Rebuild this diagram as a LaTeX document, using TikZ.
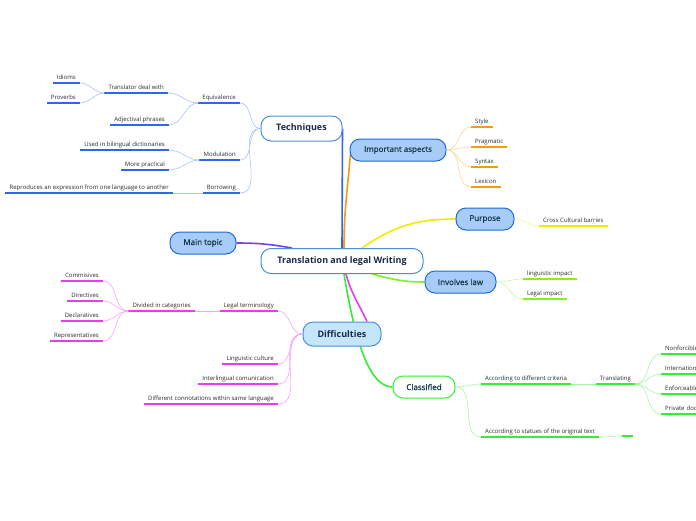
\documentclass[tikz,border=0pt]{standalone}
\usepackage{fontspec}
\setmainfont{Open Sans}
\newfontfamily\mediumfont{Open Sans}[FakeBold=0.7]
\usetikzlibrary{calc}
\pgfdeclarelayer{paper}
\pgfdeclarelayer{background}
\pgfsetlayers{paper,background,main}
\definecolor{ink}{HTML}{1B2A4A}
\definecolor{subink}{HTML}{123A48}
\definecolor{leafink}{HTML}{2B2B2B}
\definecolor{frame}{HTML}{4A8FD4}
\definecolor{subfill}{HTML}{A8CCF8}
\definecolor{subframe}{HTML}{1F6AD6}
\definecolor{difffill}{HTML}{C4E6FA}
\definecolor{blueline}{HTML}{2F66EE}
\definecolor{bluelink}{HTML}{A9C3F8}
\definecolor{orangeline}{HTML}{F59A12}
\definecolor{orangelink}{HTML}{FFD49A}
\definecolor{yellowline}{HTML}{EEEE00}
\definecolor{yellowlink}{HTML}{F8F890}
\definecolor{limeline}{HTML}{88EE22}
\definecolor{limelink}{HTML}{CCF7A4}
\definecolor{pinkline}{HTML}{E83CF0}
\definecolor{pinklink}{HTML}{F4A6F6}
\definecolor{greenline}{HTML}{33EE33}
\definecolor{greenlink}{HTML}{A6F6A6}
\definecolor{purpleline}{HTML}{7B3FF0}

\begin{document}
\begin{tikzpicture}[x=1pt,y=-1pt,
  every node/.style={text=ink},
  box/.style={rounded corners=10pt,line width=1pt,inner sep=2pt,
    minimum height=22pt,font=\fontsize{8}{9}\mediumfont},
  topic/.style={box,fill=white,draw=frame,minimum height=25pt,
    font=\fontsize{9}{10}\selectfont\bfseries},
  sub/.style={box,fill=subfill,draw=subframe,text=subink},
  leaf/.style={font=\fontsize{6}{7}\selectfont,text=leafink,inner xsep=4pt,
    inner ysep=2.5pt,text height=4.5pt,text depth=1.3pt},
  leafL/.style={leaf,anchor=south east},
  leafR/.style={leaf,anchor=south west},
  under/.style={line width=1.5pt,draw=#1},
  link/.style={line width=.6pt,draw=#1},
  trunk/.style={line width=1.6pt,draw=#1}]

\useasboundingbox (0,0) rectangle (696,520);
\begin{pgfonlayer}{paper}
  \fill[white] (0,0) rectangle (696,520);
\end{pgfonlayer}

% -------------------------------------------------------------------------
% Central topic and main topics.
% -------------------------------------------------------------------------
\node[topic,minimum width=162pt] (center) at (342,261) {Translation and legal Writing};
\node[topic,minimum width=81pt]  (tech) at (301.5,128.5) {Techniques};
\node[sub,minimum width=96pt]    (imp) at (398,150) {Important aspects};
\node[sub,minimum width=58pt]    (purp) at (485,219) {Purpose};
\node[sub,minimum width=66pt]    (mainT) at (203,243) {Main topic};
\node[sub,minimum width=71pt]    (law) at (460.5,282) {Involves law};
\node[topic,fill=difffill,minimum width=78pt,minimum height=24pt] (diff) at (342,334) {Difficulties};
\node[box,fill=white,draw=greenline,text=subink,minimum width=62pt] (cls) at (424,387) {Classified};

% trunks run behind the topic boxes
\begin{pgfonlayer}{background}
  \draw[trunk=blueline] (center.north) -- (tech.east);
  \draw[trunk=orangeline] ($(center.north)+(2,0)$) to[out=90,in=-95] ($(imp.west)+(1,4)$);
  \draw[trunk=yellowline] ($(center.north)+(20,0)$) to[out=35,in=180] (purp.west);
  \draw[trunk=purpleline] (mainT.east) to[out=0,in=170] ($(center.north)+(-50,0)$);
  \draw[trunk=limeline] ($(center.south)+(30,0)$) to[out=-15,in=180] (law.west);
  \draw[trunk=pinkline] ($(center.south)+(4,0)$) to[out=-75,in=115] ($(diff.north)+(25,0)$);
  \draw[trunk=greenline] ($(center.south)+(2,0)$) .. controls +(10,60) and +(-25,0) .. (cls.west);
\end{pgfonlayer}

% -------------------------------------------------------------------------
% Techniques.
% -------------------------------------------------------------------------
\node[leafL] (idioms) at (80,83)  {Idioms};
\node[leafL] (prov)   at (80,103) {Proverbs};
\node[leafL] (trans)  at (168,93) {Translator deal with};
\node[leafL] (adj)    at (169,125) {Adjectival phrases};
\node[leafL] (eqv)    at (240,103) {Equivalence};
\node[leafL] (dict)   at (169,150) {Used in bilingual dictionaries};
\node[leafL] (pract)  at (169,170) {More practical};
\node[leafL] (modu)   at (240,160) {Modulation};
\node[leafL] (repr)   at (173,193) {Reproduces an expression from one language to another};
\node[leafL] (borr)   at (240,193) {Borrowing};
\foreach \n in {idioms,prov,trans,adj,eqv,dict,pract,modu,repr,borr}
  \draw[under=blueline] (\n.south west) -- (\n.south east);
\draw[link=bluelink] (idioms.south east) to[out=0,in=180] (trans.south west);
\draw[link=bluelink] (prov.south east) to[out=0,in=180] (trans.south west);
\draw[link=bluelink] (trans.south east) to[out=0,in=180] (eqv.south west);
\draw[link=bluelink] (adj.south east) to[out=0,in=180] (eqv.south west);
\draw[link=bluelink] (dict.south east) to[out=0,in=180] (modu.south west);
\draw[link=bluelink] (pract.south east) to[out=0,in=180] (modu.south west);
\draw[link=bluelink] (repr.south east) -- (borr.south west);
\foreach \n in {eqv,modu,borr}
  \draw[link=bluelink] (\n.south east) to[out=0,in=180] (tech.west);

% -------------------------------------------------------------------------
% Important aspects, Purpose, Involves law.
% -------------------------------------------------------------------------
\node[leafR] (style) at (471,127) {Style};
\node[leafR] (prag)  at (471,147) {Pragmatic};
\node[leafR] (syn)   at (471,167) {Syntax};
\node[leafR] (lex)   at (471,187) {Lexicon};
\foreach \n in {style,prag,syn,lex} {
  \draw[under=orangeline] (\n.south west) -- (\n.south east);
  \draw[link=orangelink] (imp.east) to[out=0,in=180] (\n.south west);
}

\node[leafR] (cross) at (539,226) {Cross Cultural barries};
\draw[under=yellowline] (cross.south west) -- (cross.south east);
\draw[link=yellowlink] (purp.east) to[out=0,in=180] (cross.south west);

\node[leafR] (ling)  at (523,279) {linguistic impact};
\node[leafR] (legal) at (523,299) {Legal impact};
\foreach \n in {ling,legal} {
  \draw[under=limeline] (\n.south west) -- (\n.south east);
  \draw[link=limelink] (law.east) to[out=0,in=180] (\n.south west);
}

% -------------------------------------------------------------------------
% Difficulties.
% -------------------------------------------------------------------------
\node[leafL] (comm)  at (103,281) {Commisives};
\node[leafL] (dirs)  at (103,301) {Directives};
\node[leafL] (decl)  at (103,321) {Declaratives};
\node[leafL] (repre) at (103,341) {Representatives};
\node[leafL] (divc)  at (195,311) {Divided in categories};
\node[leafL] (legt)  at (278,311) {Legal terminology};
\node[leafL] (lcult) at (278,364) {Linguistic culture};
\node[leafL] (inter) at (278,384) {Interlingual comunication};
\node[leafL] (conn)  at (278,404) {Different connotations within same language};
\foreach \n in {comm,dirs,decl,repre,divc,legt,lcult,inter,conn}
  \draw[under=pinkline] (\n.south west) -- (\n.south east);
\foreach \n in {comm,dirs,decl,repre}
  \draw[link=pinklink] (\n.south east) to[out=0,in=180] (divc.south west);
\draw[link=pinklink] (divc.south east) -- (legt.south west);
\foreach \n in {legt,lcult,inter,conn}
  \draw[link=pinklink] (\n.south east) to[out=0,in=180] (diff.west);

% -------------------------------------------------------------------------
% Classified.
% -------------------------------------------------------------------------
\node[leafR] (crit)  at (481,384) {According to different criteria};
\node[leafR] (trsl)  at (596,384) {Translating};
\node[leafR] (stat)  at (481,437) {According to statues of the original text};
\node[leafR,minimum width=11pt] (blank) at (622,436) {};
\node[leafR,text width=45pt] (nonf) at (661,354) {Nonforcible};
\node[leafR,text width=45pt] (intl) at (661,374) {Internation};
\node[leafR,text width=45pt] (enf)  at (661,394) {Enforceable};
\node[leafR,text width=45pt] (priv) at (661,414) {Private doc};
\foreach \n in {crit,trsl,stat,blank,nonf,intl,enf,priv}
  \draw[under=greenline] (\n.south west) -- (\n.south east);
\draw[link=greenlink] (cls.east) to[out=0,in=180] (crit.south west);
\draw[link=greenlink] (cls.east) to[out=0,in=180] (stat.south west);
\draw[link=greenlink] (crit.south east) -- (trsl.south west);
\draw[link=greenlink] (stat.south east) to[out=0,in=180] (blank.south west);
\foreach \n in {nonf,intl,enf,priv}
  \draw[link=greenlink] (trsl.south east) to[out=0,in=180] (\n.south west);
\end{tikzpicture}
\end{document}
